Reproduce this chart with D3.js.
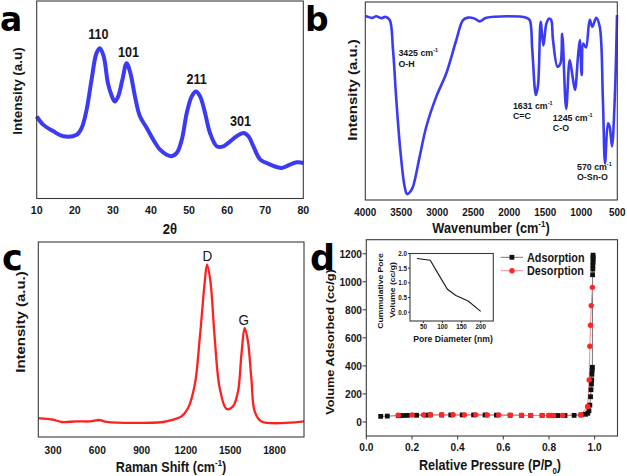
<!DOCTYPE html>
<html><head><meta charset="utf-8">
<script src="https://cdn.jsdelivr.net/npm/d3@7"></script>
<style>
body{margin:0;background:#fff}
svg{display:block}
text{font-family:"Liberation Sans",Arial,sans-serif;font-weight:bold;fill:#151515}
</style>
</head><body>
<svg id="fig" width="627" height="476"></svg>
<script>
// ---------- DATA ----------
// (a) XRD: [2theta, intensity a.u.]
const xrdPattern = [[10,41.6],[11.7,37.4],[14.4,34.0],[17,31.5],[20.5,32.3],[21.8,35.7],[23.1,44.9],[24.4,60.1],[25.7,73.6],[26.6,76.1],[27.6,71.9],[28.7,58.4],[29.6,52.5],[30.5,49.1],[31.4,51.7],[32.5,60.1],[33.6,68.5],[34.6,63.5],[35.8,51.7],[37.1,41.6],[38.9,35.7],[40.6,29.8],[42.4,24.7],[44.1,22.2],[45.4,21.4],[46.8,23.1],[48.1,29.8],[49.4,43.3],[50.7,51.7],[51.8,54.2],[52.9,51.7],[54.2,43.3],[55.5,33.2],[57.3,26.4],[59.0,26.4],[60.8,28.9],[62.5,31.5],[64.3,33.2],[65.6,31.5],[66.9,26.4],[68.7,19.7],[71.3,17.2],[74.3,15.5],[76.5,17.2],[78.3,18.3],[80,18.0]];
const xrdTicks = [10,20,30,40,50,60,70,80];
const xrdPeaks = [{label:"110", x:26.2, y:81},{label:"101", x:34.1, y:71.5},{label:"211", x:52.0, y:58},{label:"301", x:63.5, y:36.5}];

// (b) FTIR: [wavenumber, transmittance a.u.]
const ftirSpectrum = [[4000,93],[3900,92],[3850,92.8],[3780,91.8],[3720,92.5],[3661,90.9],[3615,75.8],[3569,50.5],[3514,25.3],[3453,6.7],[3420,3.0],[3380,4.0],[3338,6.7],[3245,21.9],[3153,37.0],[3014,52.2],[2875,64.0],[2736,80.8],[2643,90.9],[2574,92.1],[2481,91.6],[2411,90.2],[2319,92.0],[1764,92.1],[1717,90.9],[1681,75.8],[1631,53],[1601,58.1],[1564,90],[1527,78],[1486,88.9],[1450,91.6],[1420,91],[1393,80.8],[1330,67.3],[1290,69],[1265,84],[1210,46],[1161,70.7],[1120,62],[1088,55.6],[1046,72.4],[1020,80.8],[995,63.1],[972,79],[935,77],[883,91],[847,87.5],[792,92],[744,87.5],[700,50.5],[670,18.5],[629,38.7],[606,37.0],[574,27.1],[536,50.5],[504,93.4]];
const ftirTicks = [4000,3500,3000,2500,2000,1500,1000,500];
const ftirBands = [
  {wn:"3425", group:"O-H", x:3540, y:72.5},
  {wn:"1631", group:"C=C", x:1950, y:46},
  {wn:"1245", group:"C-O", x:1395, y:40},
  {wn:"570", group:"O-Sn-O", x:1060, y:15.3}
];

// (c) Raman: [shift, intensity a.u.]
const ramanSpectrum = [[200,9.7],[301,8.9],[358,7.7],[460,8.0],[550,8.0],[617,8.7],[663,7.7],[1046,7.7],[1114,8.9],[1170,10.6],[1215,14.9],[1260,26.8],[1294,50.8],[1328,79.8],[1343,88.4],[1366,79.8],[1395,50.8],[1429,25.1],[1475,14.4],[1519,15.7],[1553,23.4],[1576,42.2],[1598,55.9],[1620,49.1],[1643,30.3],[1666,13.2],[1711,8.0],[2000,8.0]];
const ramanTicks = [300,600,900,1200,1500,1800];
const ramanPeaks = [{label:"D", x:1345, y:90.5},{label:"G", x:1592, y:57.5}];

// (d) N2 isotherm
const adsorptionP = [0.063,0.092,0.14,0.16,0.18,0.22,0.26,0.28,0.33,0.37,0.42,0.47,0.52,0.57,0.63,0.68,0.72,0.77,0.80,0.82,0.84,0.87,0.91,0.94,0.96,0.97,0.975,0.979,0.982,0.984,0.986,0.987,0.988,0.989,0.99,0.991,0.992,0.992,0.993,0.993,0.993,0.993];
const adsorptionV = [40,42,45,46,47,48,49,50,50,50,50,50,50,49,48,47,46,46,46,46,46,46,47,50,55,62,80,120,180,230,270,300,340,370,390,1050,1090,1120,1140,1160,1175,1190];
const desorptionP = [0.99,0.985,0.982,0.979,0.976,0.969,0.94,0.86,0.82,0.81,0.80,0.77,0.72,0.68,0.63,0.58,0.53,0.48,0.43,0.38,0.33,0.28,0.25,0.20,0.14];
const desorptionV = [960,830,690,540,300,110,52,47,46,46,46,47,47,48,49,50,50,51,51,52,52,52,51,50,48];
const isoXTicks = [0,0.2,0.4,0.6,0.8,1.0];
const isoYTicks = [0,200,400,600,800,1000,1200];
// inset: cumulative pore volume
const poreDiameter = [33,68,90,113,135,150,168,200];
const poreVolume = [1.83,1.77,1.28,0.78,0.57,0.48,0.37,0.03];
const poreXTicks = [50,100,150,200];
const poreYTicks = [0,0.5,1.0,1.5,2.0];

// ---------- HELPERS ----------
const svg = d3.select("#fig");
const SX = 0.9;
function label(g, x, y, parts, o) {
  const size = o.size, sx = o.sx === undefined ? SX : o.sx;
  const t = g.append("text")
    .attr("transform", `translate(${x},${y}) scale(${sx},1)` + (o.rot ? " rotate(-90)" : ""))
    .attr("font-size", size)
    .attr("text-anchor", o.anchor || "start");
  if (o.family) t.style("font-family", o.family);
  if (o.weight) t.style("font-weight", o.weight);
  if (o.fill) t.style("fill", o.fill);
  if (typeof parts === "string") { t.text(parts); return t; }
  let off = 0;
  parts.forEach(p => {
    const ts = t.append("tspan").text(p.t);
    let target = 0;
    if (p.sup) { target = -size * 0.42; ts.attr("font-size", size * 0.62); }
    else if (p.sub) { target = size * 0.28; ts.attr("font-size", size * 0.62); }
    if (target !== off) ts.attr("dy", target - off);
    off = target;
  });
  return t;
}
function box(g, x0, y0, x1, y1) {
  g.append("rect").attr("x", x0).attr("y", y0).attr("width", x1 - x0).attr("height", y1 - y0)
    .attr("fill", "none").attr("stroke", "#3a3a3a").attr("stroke-width", 1.1);
}
function xTickLabels(g, scale, vals, y, size, fmt, tick) {
  vals.forEach(v => {
    label(g, scale(v), y, fmt ? fmt(v) : String(v), {size: size, anchor: "middle"});
    if (tick) g.append("line").attr("x1", scale(v)).attr("x2", scale(v)).attr("y1", tick[0]).attr("y2", tick[1]).attr("stroke", "#3a3a3a");
  });
}
const panelLetter = (x, y, s, size) => label(svg, x, y, s, {size: size || 35, sx: 1, family: "'DejaVu Sans',sans-serif", fill: "#000"});

// ---------- PANEL A ----------
{
  const g = svg.append("g");
  const x = d3.scaleLinear().domain([10, 80]).range([36.7, 303.3]);
  const y = d3.scaleLinear().domain([0, 100]).range([198.5, 1]);
  g.append("path").datum(xrdPattern)
    .attr("d", d3.line().x(d => x(d[0])).y(d => y(d[1])).curve(d3.curveCatmullRom))
    .attr("fill", "none").attr("stroke", "#3b3bf4").attr("stroke-width", 4).attr("stroke-linejoin", "round");
  box(g, x.range()[0], y.range()[1], x.range()[1], y.range()[0]);
  xTickLabels(g, x, xrdTicks, 214, 11.8);
  label(g, 170, 233.5, "2θ", {size: 14.5, anchor: "middle"});
  label(g, 22, 91, "Intensity (a.u)", {size: 13.5, anchor: "middle", rot: true});
  xrdPeaks.forEach(p => label(g, x(p.x), y(p.y), p.label, {size: 14, anchor: "middle"}));
  panelLetter(0, 31, "a", 33);
}

// ---------- PANEL B ----------
{
  const g = svg.append("g");
  const x = d3.scaleLinear().domain([4000, 500]).range([365.3, 617.3]);
  const y = d3.scaleLinear().domain([0, 100]).range([200, 2]);
  g.append("path").datum(ftirSpectrum)
    .attr("d", d3.line().x(d => x(d[0])).y(d => y(d[1])).curve(d3.curveCatmullRom))
    .attr("fill", "none").attr("stroke", "#3b3bf4").attr("stroke-width", 2.6).attr("stroke-linejoin", "round");
  box(g, x.range()[0], y.range()[1], x.range()[1], y.range()[0]);
  xTickLabels(g, x, ftirTicks, 215.7, 11);
  label(g, 491, 232.7, [{t: "Wavenumber (cm"}, {t: "-1", sup: true}, {t: ")"}], {size: 14.2, anchor: "middle"});
  label(g, 357, 90, "Intensity (a.u.)", {size: 15, anchor: "middle", rot: true});
  ftirBands.forEach(b => {
    label(g, x(b.x), y(b.y), [{t: b.wn + " cm"}, {t: "-1", sup: true}], {size: 9.8});
    label(g, x(b.x), y(b.y) + 10.5, b.group, {size: 9.8});
  });
  panelLetter(305, 31, "b", 33);
}

// ---------- PANEL C ----------
{
  const g = svg.append("g");
  const x = d3.scaleLinear().domain([200, 2000]).range([38.3, 304]);
  const y = d3.scaleLinear().domain([0, 100]).range([437, 242]);
  g.append("path").datum(ramanSpectrum)
    .attr("d", d3.line().x(d => x(d[0])).y(d => y(d[1])).curve(d3.curveCatmullRom))
    .attr("fill", "none").attr("stroke", "#ff2020").attr("stroke-width", 2.3).attr("stroke-linejoin", "round");
  box(g, x.range()[0], y.range()[1], x.range()[1], y.range()[0]);
  xTickLabels(g, x, ramanTicks, 454, 11.3);
  label(g, 171, 471.5, [{t: "Raman Shift (cm"}, {t: "-1", sup: true}, {t: ")"}], {size: 14, anchor: "middle"});
  label(g, 25, 322, "Intensity (a.u.)", {size: 15, anchor: "middle", rot: true});
  ramanPeaks.forEach(p => label(g, x(p.x), y(p.y), p.label, {size: 15, anchor: "middle", weight: "normal"}));
  panelLetter(2, 270, "c");
}

// ---------- PANEL D ----------
{
  const g = svg.append("g");
  const x = d3.scaleLinear().domain([0, 1.1]).range([366.3, 617.5]);
  const y = d3.scaleLinear().domain([-100, 1300]).range([436, 239.7]);
  box(g, x.range()[0], y.range()[1], x.range()[1], y.range()[0]);
  xTickLabels(g, x, isoXTicks, 451, 11.3, d3.format(".1f"), [436, 439.5]);
  isoYTicks.forEach(v => {
    g.append("line").attr("x1", 362.5).attr("x2", 366.3).attr("y1", y(v)).attr("y2", y(v)).attr("stroke", "#3a3a3a");
    label(g, 362, y(v) + 4, String(v), {size: 11.3, anchor: "end"});
  });
  label(g, 490, 470, [{t: "Relative Pressure (P/P"}, {t: "0", sub: true}, {t: ")"}], {size: 14, anchor: "middle"});
  label(g, 333.5, 342, "Volume Adsorbed (cc/g)", {size: 12.8, anchor: "middle", rot: true});

  const ads = adsorptionP.map((p, i) => [p, adsorptionV[i]]);
  const des = desorptionP.map((p, i) => [p, desorptionV[i]]);
  const ln = d3.line().x(d => x(d[0])).y(d => y(d[1]));
  g.append("path").datum(ads).attr("d", ln).attr("fill", "none").attr("stroke", "#777").attr("stroke-width", 1);
  g.append("path").datum(des).attr("d", ln).attr("fill", "none").attr("stroke", "#f08a9a").attr("stroke-width", 1);
  g.selectAll(".sq").data(ads).enter().append("rect")
    .attr("x", d => x(d[0]) - 2.4).attr("y", d => y(d[1]) - 2.4).attr("width", 4.8).attr("height", 4.8).attr("fill", "#111");
  g.selectAll(".ci").data(des).enter().append("circle")
    .attr("cx", d => x(d[0])).attr("cy", d => y(d[1])).attr("r", 2.7).attr("fill", "#ff2626");

  // legend
  g.append("line").attr("x1", 500.7).attr("x2", 523).attr("y1", 257.3).attr("y2", 257.3).attr("stroke", "#777");
  g.append("rect").attr("x", 509.5).attr("y", 254.9).attr("width", 4.8).attr("height", 4.8).attr("fill", "#111");
  label(g, 527, 261.5, "Adsorption", {size: 12});
  g.append("line").attr("x1", 500.7).attr("x2", 523).attr("y1", 270.7).attr("y2", 270.7).attr("stroke", "#f08a9a");
  g.append("circle").attr("cx", 512).attr("cy", 270.7).attr("r", 2.7).attr("fill", "#ff2626");
  label(g, 527, 274.9, "Desorption", {size: 12});

  // inset
  const xi = d3.scaleLinear().domain([15, 233]).range([410, 493.3]);
  const yi = d3.scaleLinear().domain([-0.3, 2.0]).range([321, 253.5]);
  box(g, xi.range()[0], yi.range()[1], xi.range()[1], yi.range()[0]);
  g.append("path").datum(poreDiameter.map((d, i) => [d, poreVolume[i]]))
    .attr("d", d3.line().x(d => xi(d[0])).y(d => yi(d[1])))
    .attr("fill", "none").attr("stroke", "#1a1a1a").attr("stroke-width", 1.1);
  poreXTicks.forEach(v => {
    g.append("line").attr("x1", xi(v)).attr("x2", xi(v)).attr("y1", 321).attr("y2", 323).attr("stroke", "#3a3a3a");
    label(g, xi(v), 329, String(v), {size: 7, anchor: "middle"});
  });
  poreYTicks.forEach(v => {
    g.append("line").attr("x1", 408).attr("x2", 410).attr("y1", yi(v)).attr("y2", yi(v)).attr("stroke", "#3a3a3a");
    label(g, 407, yi(v) + 2.5, d3.format(".1f")(v), {size: 7, anchor: "end"});
  });
  label(g, 453, 342, "Pore Diameter (nm)", {size: 9.6, anchor: "middle"});
  label(g, 383, 291, "Cummulative Pore", {size: 8.6, anchor: "middle", rot: true});
  label(g, 395, 290, "Volume (cc/g)", {size: 8.6, anchor: "middle", rot: true});

  panelLetter(310, 270, "d");
}
</script>
</body></html>
